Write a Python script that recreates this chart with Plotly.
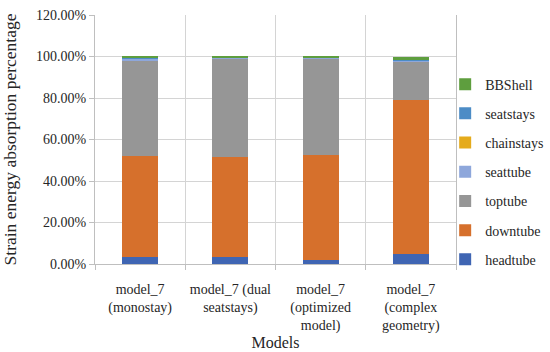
import plotly.graph_objects as go

categories = ["model_7<br>(monostay)", "model_7 (dual<br>seatstays)",
              "model_7<br>(optimized<br>model)", "model_7<br>(complex<br>geometry)"]
headtube = [3.2, 3.2, 2.1, 4.8]
downtube = [48.8, 48.3, 50.2, 74.2]
toptube = [46.0, 47.5, 46.5, 18.5]
seattube = [1.2, 0.4, 0.7, 0.4]
chainstays = [0.05, 0.05, 0.05, 0.05]
seatstays = [0.3, 0.2, 0.2, 0.4]
bbshell = [0.45, 0.35, 0.25, 1.65]

series = [
    ("headtube", headtube, "#3F65B3"),
    ("downtube", downtube, "#D6702C"),
    ("toptube", toptube, "#969696"),
    ("seattube", seattube, "#8EA7DB"),
    ("chainstays", chainstays, "#E5AB1C"),
    ("seatstays", seatstays, "#4C8CC6"),
    ("BBShell", bbshell, "#5E9E3E"),
]

FONT = "Liberation Serif"
fig = go.Figure()
n = len(series)
for i, (name, vals, col) in enumerate(series):
    fig.add_trace(go.Bar(x=categories, y=vals, name=name, marker_color=col,
                         marker_line_width=0, legendgroup=name,
                         legendrank=n - i))

fig.update_layout(
    barmode="stack", bargap=0.6,
    width=550, height=352,
    margin=dict(l=95, r=94, t=15, b=88, autoexpand=False),
    paper_bgcolor="white", plot_bgcolor="white",
    font=dict(family=FONT, size=14, color="#262626"),
    legend=dict(traceorder="grouped", tracegroupgap=8,
                x=0.97, xanchor="left", y=0.785, yanchor="top",
                bgcolor="rgba(0,0,0,0)",
                font=dict(size=14), itemwidth=30),
    showlegend=True,
)
fig.update_xaxes(
    type="category", tickson="boundaries", showgrid=True, gridcolor="#d4d4d4",
    ticks="outside", ticklen=5, tickcolor="#bfbfbf", tickangle=0,
    ticklabelstandoff=12,
    showline=True, linecolor="#bfbfbf", automargin=False,
    title=dict(text="Models", font=dict(size=16), standoff=2),
    tickfont=dict(size=14),
)
fig.update_yaxes(
    range=[0, 120], dtick=20, tickformat=".2f", ticksuffix="%",
    showgrid=True, gridcolor="#d4d4d4", ticks="outside", ticklen=5, tickcolor="#bfbfbf",
    showline=True, linecolor="#bfbfbf", mirror=True, zeroline=False, automargin=False,
    title=dict(text="Strain energy absorption percentage", font=dict(size=17.5), standoff=14),
    tickfont=dict(size=14),
)
fig.write_html("out.html", config={"displayModeBar": False},
               post_script="document.body.style.margin='0';document.body.style.overflow='hidden';")
